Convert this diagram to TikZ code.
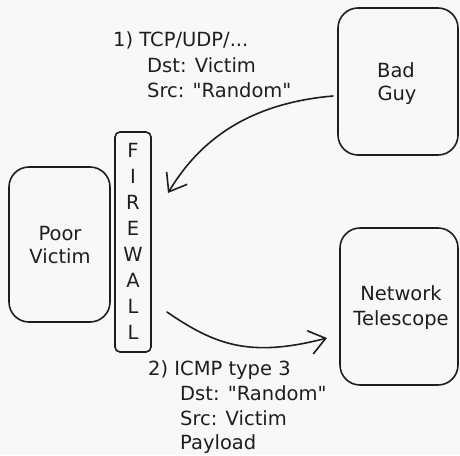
\documentclass[tikz,border=0pt]{standalone}
\usepackage{fontspec}
\setmainfont{DejaVu Sans}
\usetikzlibrary{arrows.meta}
\definecolor{ink}{HTML}{1E1E1E}
\definecolor{paper}{HTML}{F8F8F8}
\newcommand{\dq}{\textquotedbl}
\begin{document}
\begin{tikzpicture}[x=1pt,y=-1pt,
  box/.style={draw=ink, line width=1.6pt, rounded corners=20pt, inner sep=0pt},
  wallbox/.style={box, rounded corners=5pt},
  lbl/.style={font=\fontsize{19.5}{26}\selectfont, text=ink, inner sep=0pt},
  flow/.style={draw=ink, line width=1.6pt, line cap=round,
    -{Straight Barb[length=16pt,width=24pt,line width=1.6pt]}}]
% canvas
\fill[paper] (0,0) rectangle (460,455);
\useasboundingbox (0,0) rectangle (460,455);

% boxes
\node[box, minimum width=120pt, minimum height=147pt] (badguy) at (398,81.5) {};
\node[box, minimum width=101pt, minimum height=155pt] (victim) at (59.5,244.5) {};
\node[wallbox, minimum width=36pt, minimum height=220pt] (firewall) at (133,242) {};
\node[box, minimum width=118pt, minimum height=157pt] (telescope) at (399,306.5) {};

% box captions
\node[lbl, anchor=base] (bad) at (396,77) {Bad};
\node[lbl, anchor=base] (guy) at (397,100) {Guy};
\node[lbl, anchor=base] (poor) at (60,240) {Poor};
\node[lbl, anchor=base] (vic) at (60,263) {Victim};
\node[lbl, anchor=base] (net) at (401,300) {Network};
\node[lbl, anchor=base] (tel) at (401,325) {Telescope};

% vertical firewall lettering
\foreach \ch [count=\i from 0] in {F,I,R,E,W,A,L,L}
  \node[lbl, anchor=base] (fw\i) at (133,157+26*\i) {\ch};

% packet descriptions
\node[lbl, anchor=base west] (p1a) at (113,46) {1) TCP/UDP/...};
\node[lbl, anchor=base west] (p1b) at (147,72) {Dst: Victim};
\node[lbl, anchor=base west] (p1c) at (147,97) {Src: \dq Random\dq};

\node[lbl, anchor=base west] (p2a) at (148,375) {2) ICMP type 3};
\node[lbl, anchor=base west] (p2b) at (180,400) {Dst: \dq Random\dq};
\node[lbl, anchor=base west] (p2c) at (180,425) {Src: Victim};
\node[lbl, anchor=base west] (p2d) at (180,449) {Payload};

% traffic
\coordinate (s1) at (333,96);
\coordinate (e1) at (168,193);
\coordinate (s2) at (167,312);
\coordinate (e2) at (327,338);
\draw[flow] (s1) .. controls (240,104) and (195,148) .. (e1);
\draw[flow] (s2) .. controls (215,345) and (250,358) .. (e2);
\end{tikzpicture}
\end{document}
